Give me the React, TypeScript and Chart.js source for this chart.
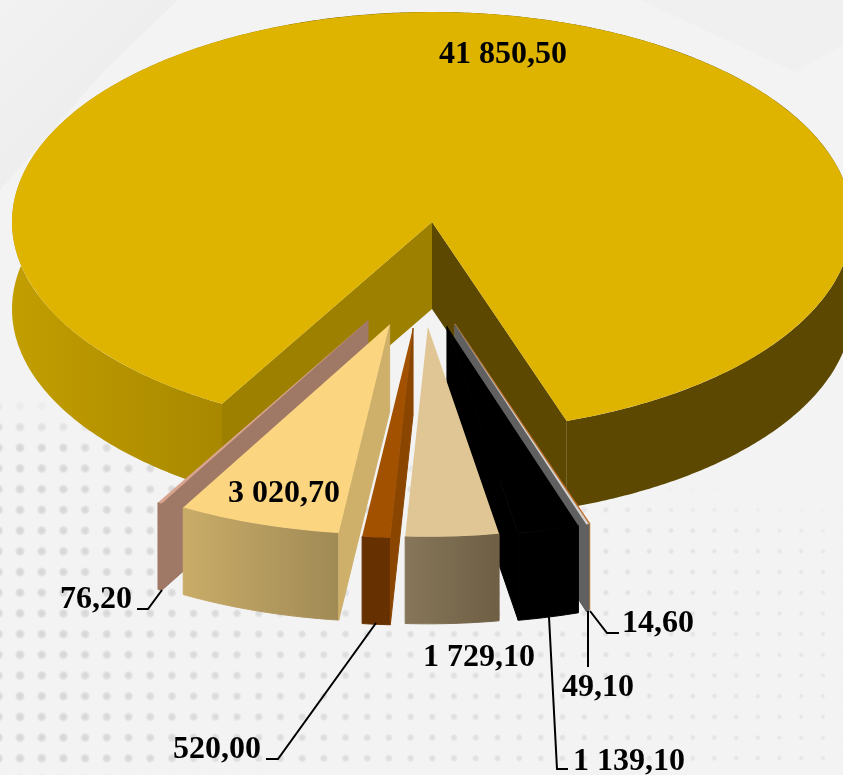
import React, { useEffect, useRef } from "react";
import { Chart, registerables } from "chart.js";

Chart.register(...registerables);

// ---- data -----
const values = [41850.5, 14.6, 49.1, 1139.1, 1729.1, 520.0, 3020.7, 76.2];
const topColors = ["#dfb400", "#c8641e", "#d2d2d2", "#000000", "#e0c694", "#a15100", "#fbd580", "#d8a48e"];
const cutColors = ["", "#b87a3a", "#606060", "#000000", "#e0c694", "#8a4500", "#ceb06b", "#a07866"];
const rimFrom = ["", "#b87a3a", "#606060", "#000000", "#877659", "#663000", "#c9ac68", "#a07866"];
const rimTo = ["", "#b87a3a", "#606060", "#000000", "#6e5f45", "#663000", "#a08a55", "#a07866"];
const explode = [0, 215, 217, 215, 210, 213, 216, 227];
const paintOrder = [0, 1, 2, 3, 4, 5, 7, 6];

// ---- label placement (text start x, baseline y) -----
const labelSpots: [number, number][] = [
  [439, 63], [622, 632], [562, 696], [573, 770], [423, 666], [173, 758], [228, 502], [60, 608],
];
const leaders: [number, number][][] = [
  [],
  [[619, 633], [607, 633], [590, 611]],
  [[588, 667], [588, 611]],
  [[568, 769], [557, 769], [549, 617]],
  [],
  [[266, 759], [278, 759], [376, 623]],
  [],
  [[137, 609], [148, 609], [162, 590]],
];

// ---- projection -----
const FLATTEN = 0.5;
const DEPTH = 87;
const EXPLODE_X = 0.48;
const EXPLODE_SHIFT_X = -10;

const fmt = (v: number) => {
  const [a, b] = v.toFixed(2).split(".");
  return a.replace(/\B(?=(\d{3})+$)/g, " ") + "," + b;
};

const backdrop = {
  id: "backdrop",
  beforeDraw(chart: any) {
    const { ctx, width, height } = chart;
    ctx.save();
    ctx.fillStyle = "#f3f3f3";
    ctx.fillRect(0, 0, width, height);
    const g = ctx.createLinearGradient(0, 0, 150, 150);
    g.addColorStop(0, "#f2f2f2");
    g.addColorStop(0.75, "#ededed");
    g.addColorStop(1, "#f1f1f1");
    ctx.fillStyle = g;
    ctx.beginPath();
    ctx.moveTo(0, 0);
    ctx.lineTo(178, 0);
    ctx.lineTo(105, 70);
    ctx.lineTo(0, 190);
    ctx.closePath();
    ctx.fill();
    ctx.fillStyle = "#f0f0f0";
    ctx.beginPath();
    ctx.moveTo(640, 0);
    ctx.lineTo(843, 0);
    ctx.lineTo(843, 45);
    ctx.lineTo(795, 72);
    ctx.closePath();
    ctx.fill();
    for (let y = 572 - 20.7 * 8; y < height + 5; y += 20.7) {
      for (let x = 20 - 21.7; x < width + 5; x += 21.7) {
        const fx = x / width;
        const r = 5.5 - 2.8 * fx;
        const start = 390 + 110 * fx;
        const a = Math.min(1, Math.max(0, (y - start) / 50)) * (0.85 - 0.5 * fx);
        if (a <= 0) continue;
        const d = ctx.createRadialGradient(x, y, 0, x, y, r);
        d.addColorStop(0, `rgba(205,205,205,${a})`);
        d.addColorStop(0.6, `rgba(210,210,210,${a * 0.8})`);
        d.addColorStop(1, "rgba(220,220,220,0)");
        ctx.fillStyle = d;
        ctx.fillRect(x - r, y - r, r * 2, r * 2);
      }
    }
    ctx.restore();
  },
};

const pie3d = {
  id: "pie3d",
  beforeDatasetsDraw(chart: any) {
    const { ctx } = chart;
    const arcs = chart.getDatasetMeta(0).data;
    for (const i of paintOrder) {
      const arc = arcs[i];
      const { x: cx, y: cy, startAngle: a0, endAngle: a1, outerRadius: R } = arc;
      const mid = (a0 + a1) / 2;
      const d = explode[i];
      const ox = cx + (d ? EXPLODE_SHIFT_X + EXPLODE_X * d * Math.cos(mid) : 0);
      const oy = cy + FLATTEN * d * Math.sin(mid);
      const pt = (t: number, dz = 0): [number, number] => [
        ox + R * Math.cos(t),
        oy + FLATTEN * R * Math.sin(t) + dz,
      ];
      ctx.save();
      ctx.lineWidth = 1;
      // rim
      const n = Math.max(2, Math.ceil((a1 - a0) / 0.01));
      const xs: number[] = [];
      for (let k = 0; k <= n; k++) xs.push(pt(a0 + ((a1 - a0) * k) / n)[0]);
      let fill: any;
      if (i === 0) {
        const g = ctx.createLinearGradient(12, 0, 568, 0);
        g.addColorStop(0, "#c29e00");
        g.addColorStop(210 / 556, "#a88800");
        g.addColorStop(0.5, "#a88800");
        g.addColorStop(0.5, "#5c4800");
        g.addColorStop(1, "#5c4800");
        fill = g;
      } else {
        const g = ctx.createLinearGradient(Math.min(...xs), 0, Math.max(...xs), 0);
        g.addColorStop(0, rimFrom[i]);
        g.addColorStop(1, rimTo[i]);
        fill = g;
      }
      ctx.fillStyle = fill;
      ctx.strokeStyle = fill;
      ctx.beginPath();
      for (let k = 0; k <= n; k++) {
        const p = pt(a0 + ((a1 - a0) * k) / n);
        k ? ctx.lineTo(p[0], p[1]) : ctx.moveTo(p[0], p[1]);
      }
      for (let k = n; k >= 0; k--) {
        const p = pt(a0 + ((a1 - a0) * k) / n, DEPTH);
        ctx.lineTo(p[0], p[1]);
      }
      ctx.closePath();
      ctx.fill();
      if (i !== 0) ctx.stroke();
      // cut faces: only those turned towards the viewer
      const face = (t: number, color: string) => {
        const e = pt(t);
        const e2 = pt(t, DEPTH);
        ctx.fillStyle = color;
        ctx.strokeStyle = color;
        ctx.beginPath();
        ctx.moveTo(ox, oy);
        ctx.lineTo(e[0], e[1]);
        ctx.lineTo(e2[0], e2[1]);
        ctx.lineTo(ox, oy + DEPTH);
        ctx.closePath();
        ctx.fill();
        if (i !== 0) ctx.stroke();
      };
      const faceStart = i === 0 ? "#9e8000" : cutColors[i];
      const faceEnd = i === 0 ? "#5c4800" : cutColors[i];
      if (Math.cos(a0) < 0) face(a0, faceStart);
      if (Math.cos(a1) > 0) face(a1, faceEnd);
      ctx.restore();
      // top face: the library's own arc element, flattened and moved
      ctx.save();
      ctx.translate(ox, oy);
      ctx.scale(1, FLATTEN);
      ctx.translate(-cx, -cy);
      arc.draw(ctx);
      ctx.restore();
    }
    // leaders and labels
    ctx.save();
    ctx.strokeStyle = "#000";
    ctx.lineWidth = 2;
    leaders.forEach((line) => {
      if (!line.length) return;
      ctx.beginPath();
      line.forEach((p, k) => (k ? ctx.lineTo(p[0], p[1]) : ctx.moveTo(p[0], p[1])));
      ctx.stroke();
    });
    ctx.fillStyle = "#000";
    ctx.font = 'bold 32px "Liberation Serif"';
    ctx.textAlign = "left";
    ctx.textBaseline = "alphabetic";
    values.forEach((v, i) => ctx.fillText(fmt(v), labelSpots[i][0], labelSpots[i][1]));
    ctx.restore();
    return false;
  },
};

export default function App() {
  const ref = useRef<HTMLCanvasElement>(null);
  useEffect(() => {
    document.body.style.margin = "0";
    const chart = new Chart(ref.current as HTMLCanvasElement, {
      type: "pie",
      data: {
        labels: values.map(fmt),
        datasets: [{ data: values, backgroundColor: topColors, borderWidth: 0, offset: 0 }],
      },
      options: {
        responsive: false,
        animation: false,
        rotation: 210,
        radius: 420,
        layout: { padding: { left: 21, right: 0, top: 0, bottom: 331 } },
        plugins: { legend: { display: false }, tooltip: { enabled: false } },
      } as any,
      plugins: [backdrop, pie3d],
    } as any);
    return () => chart.destroy();
  }, []);
  return <canvas ref={ref} width={843} height={775} style={{ display: "block" }} />;
}
